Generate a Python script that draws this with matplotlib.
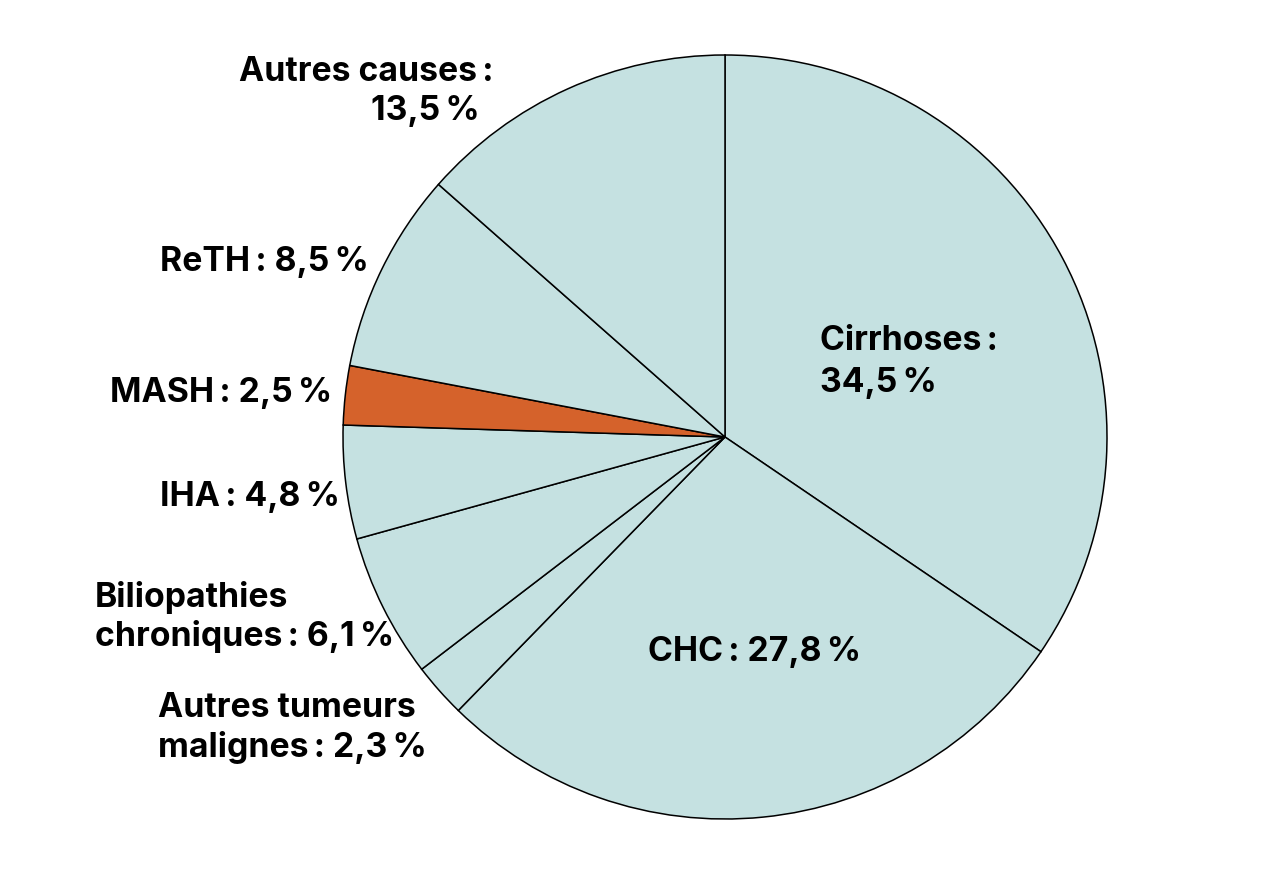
import matplotlib.pyplot as plt

labels = ["Cirrhoses", "CHC", "Autres tumeurs malignes", "Biliopathies chroniques",
          "IHA", "MASH", "ReTH", "Autres causes"]
values = [34.5, 27.8, 2.3, 6.1, 4.8, 2.5, 8.5, 13.5]
colors = ["#c5e1e1"] * 8
colors[5] = "#d5622b"

# label text, x, y (pixels from top-left), alignment
annots = [
    ("Autres causes\u2009:", 493, 72, "right"),
    ("13,5\u2009%", 480, 111, "right"),
    ("ReTH\u2009: 8,5\u2009%", 160, 262, "left"),
    ("Cirrhoses\u2009:", 820, 341, "left"),
    ("34,5\u2009%", 820, 383, "left"),
    ("MASH\u2009: 2,5\u2009%", 110, 393, "left"),
    ("IHA\u2009: 4,8\u2009%", 160, 497, "left"),
    ("Biliopathies", 95, 597, "left"),
    ("chroniques\u2009: 6,1\u2009%", 95, 637, "left"),
    ("CHC\u2009: 27,8\u2009%", 648, 652, "left"),
    ("Autres tumeurs", 158, 708, "left"),
    ("malignes\u2009: 2,3\u2009%", 158, 748, "left"),
]

W, H = 1280, 870
fig = plt.figure(figsize=(W / 100, H / 100), dpi=100)
ax = fig.add_axes([0, 0, 1, 1])

ax.pie(values, colors=colors, startangle=90, counterclock=False,
       center=(725, H - 438), radius=382,
       wedgeprops=dict(edgecolor="black", linewidth=1.1), frame=True)
ax.set_xlim(0, W)
ax.set_ylim(0, H)
ax.set_aspect("equal")
ax.axis("off")

for txt, x, y, ha in annots:
    ax.text(x, H - y, txt, ha=ha, va="center", fontsize=24.3, fontweight="bold",
            family=["Inter", "DejaVu Sans"], color="black")

plt.savefig("out.png", dpi=100)
